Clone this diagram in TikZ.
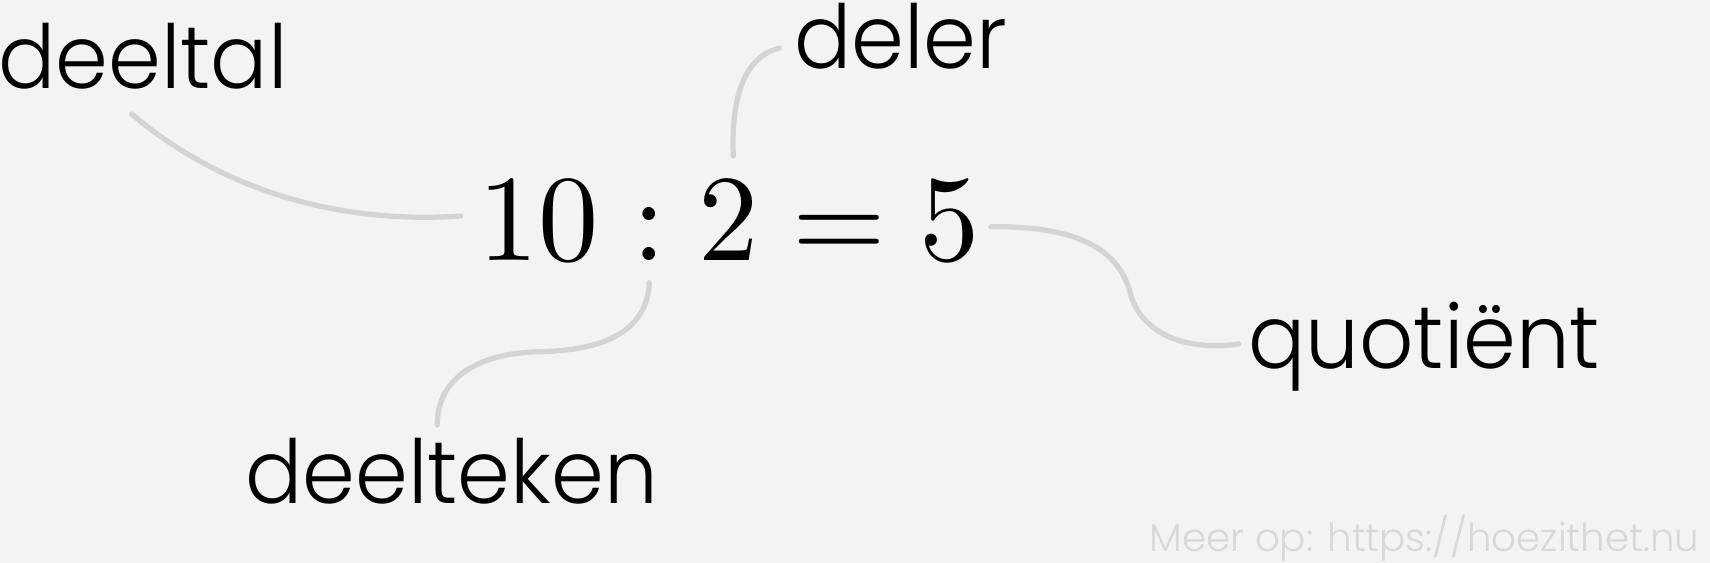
\documentclass[tikz,border=0pt]{standalone}
\usepackage{fontspec}
\usepackage{graphicx}
\usetikzlibrary{positioning}
\newfontfamily\woordfont{Poppins Light}
\newcommand{\woord}[1]{\scalebox{1}[1.04]{#1}}
\definecolor{achtergrond}{HTML}{F3F3F3}
\definecolor{lijngrijs}{HTML}{D4D4D4}
\definecolor{merkgrijs}{HTML}{D8D8D8}
\tikzset{
word/.style={ % Sets the properties for each label
inner sep=0pt,
anchor=base west,
font=\woordfont\fontsize{48.3}{52}\selectfont},
mark text/.style={ % Watermark in the corner
inner sep=0pt,
anchor=base west,
text=merkgrijs,
font=\woordfont\fontsize{22.1}{26}\selectfont},
guide/.style={ % Sets the properties for each connector
draw=lijngrijs,
line width=3pt,
line cap=round}}

\begin{document}
\begin{tikzpicture}[x=0.02cm, y=-0.02cm]
	\fill[achtergrond] (0,0) rectangle (1710,563);
	\useasboundingbox (0,0) rectangle (1710,563);
	\node[inner sep=0pt, anchor=base west] (som) at (478,260.7) {\scalebox{6.85}[7]{$10:2=5$}};
	\node[word] (deeltal) at (-2,89) {\woord{deeltal}};
	\node[word] (deler) at (794,68.3) {\woord{deler}};
	\node[word] (deelteken) at (245,503.3) {\woord{deelteken}};
	\node[word] (quotient) at (1248,368.3) {\woord{quotiënt}};
	\node[mark text] (meer) at (1149,551) {Meer op: https://hoezithet.nu};
	% free ends of the connectors
	\coordinate (deeltal-a) at (131.7,114);
	\coordinate (deeltal-b) at (460.7,216);
	\coordinate (deler-a) at (733.3,156);
	\coordinate (deler-b) at (779.3,48.3);
	\coordinate (teken-a) at (649.3,282.7);
	\coordinate (teken-m) at (540,351.7);
	\coordinate (teken-b) at (437.3,425);
	\coordinate (quot-a) at (991,226.7);
	\coordinate (quot-m) at (1130.3,293.3);
	\coordinate (quot-b) at (1239,344);
	\draw[guide] (deeltal-a) .. controls (215,185) and (330,225) .. (deeltal-b);
	\draw[guide] (deler-a) .. controls (731,100) and (743,57) .. (deler-b);
	\draw[guide] (teken-a) .. controls (647,325) and (615,350) .. (teken-m)
		.. controls (475,353) and (437,380) .. (teken-b);
	\draw[guide] (quot-a) .. controls (1070,226) and (1118,245) .. (quot-m)
		.. controls (1140,330) and (1180,352) .. (quot-b);
\end{tikzpicture}
\end{document}
